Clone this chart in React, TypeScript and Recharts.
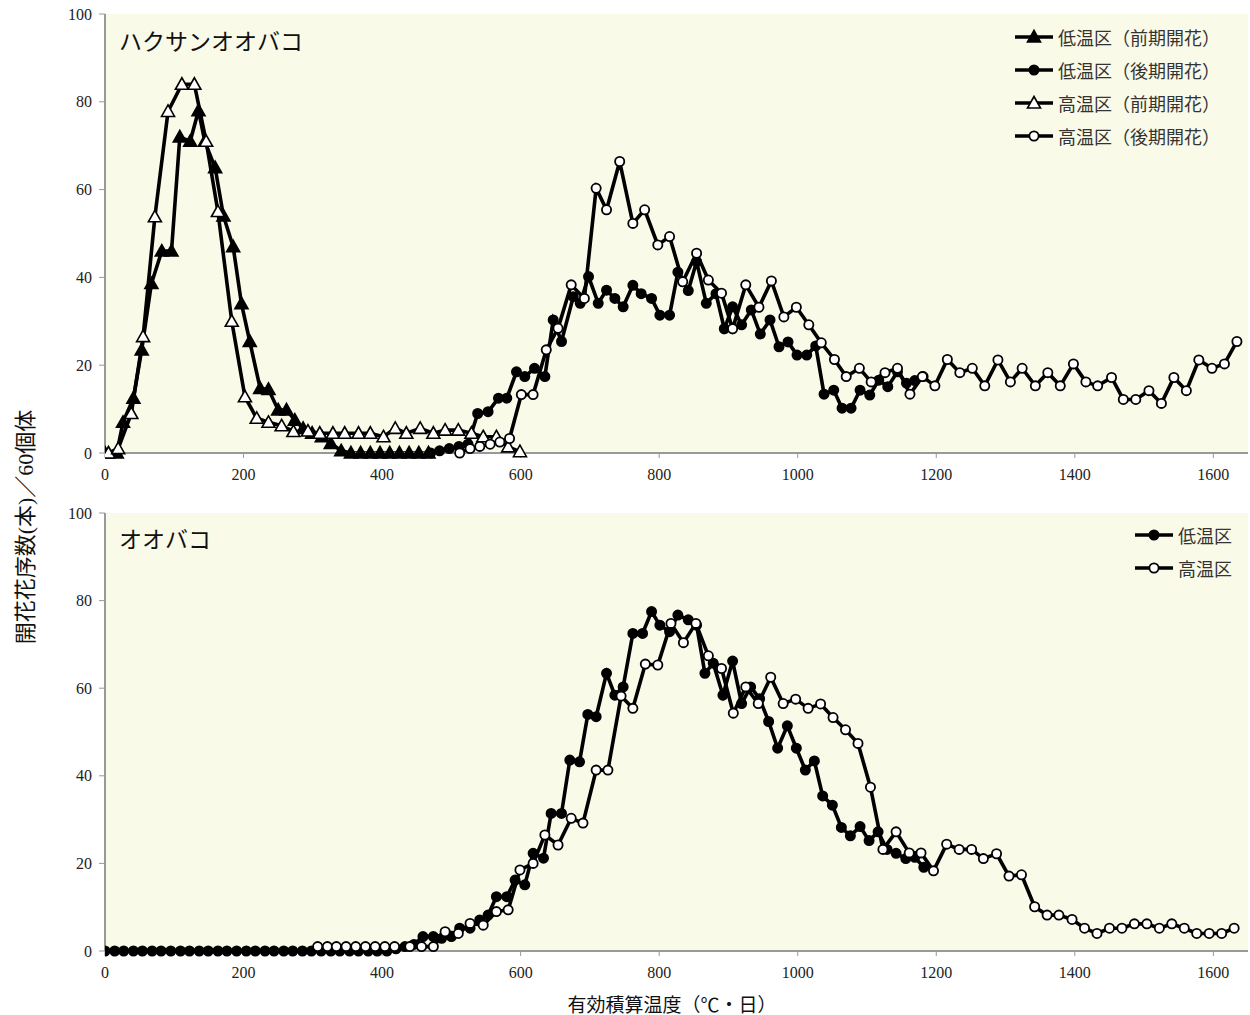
import React from "react";
import { LineChart, Line, XAxis, YAxis, ReferenceArea } from "recharts";

// ハクサンオオバコ — [有効積算温度, 開花花序数]
const hakuLowEarly: [number, number][] = [
  [0, 0], [17, 0], [26, 7], [41, 12.5], [53, 23.5], [67, 38.6], [82, 46], [96, 46],
  [108, 72], [123, 71], [135, 78], [144, 71], [159, 65], [171, 54], [185, 47], [197, 34],
  [209, 25.4], [224, 14.7], [236, 14.5], [250, 9.8], [262, 9.8], [274, 7.5], [286, 5.6],
  [299, 4.5], [313, 3.7], [326, 2.2], [341, 0.5], [355, 0], [369, 0], [383, 0], [397, 0],
  [411, 0], [425, 0], [439, 0], [453, 0], [467, 0],
];
const hakuLowLate: [number, number][] = [
  [470, 0], [483, 0.5], [497, 1], [511, 1.5], [524, 2], [538, 9], [553, 9.4], [568, 12.5],
  [580, 12.5], [594, 18.5], [606, 17.4], [620, 19.3], [635, 17.4], [647, 30.3], [659, 25.4],
  [676, 35.6], [686, 34.1], [698, 40.2], [712, 34.1], [724, 37.1], [736, 35.2], [748, 33.3],
  [762, 38.2], [774, 36.3], [789, 35.2], [801, 31.4], [815, 31.4], [827, 41.2], [842, 37],
  [854, 43.6], [868, 34.1], [882, 36.3], [894, 28.3], [906, 33.3], [919, 29.2], [933, 32.6],
  [946, 27.1], [960, 30.3], [973, 24.2], [986, 25.3], [999, 22.3], [1013, 22.3], [1026, 24.4],
  [1038, 13.4], [1052, 14.3], [1064, 10.2], [1077, 10.2], [1090, 14.3], [1104, 13.2],
  [1117, 16.6], [1130, 15.1], [1144, 18.5], [1157, 15.9], [1169, 16.5], [1181, 17.4],
];
const hakuHighEarly: [number, number][] = [
  [5, 0], [19, 1], [38, 9], [55, 26.5], [72, 53.8], [91, 77.8], [111, 84], [129, 84],
  [146, 71], [163, 55], [183, 30], [202, 12.8], [219, 7.9], [236, 7], [255, 6.2], [272, 4.9],
  [293, 5], [310, 4.5], [329, 4.5], [346, 4.5], [366, 4.5], [383, 4.5], [402, 3.7], [419, 5.6],
  [435, 4.5], [455, 5.6], [474, 4.5], [491, 5.2], [510, 5.2], [529, 4.5], [546, 3.7],
  [565, 3.7], [582, 1.4], [599, 0.3],
];
const hakuHighLate: [number, number][] = [
  [512, 0], [527, 1], [541, 1.5], [556, 2], [570, 2.5], [584, 3.3], [601, 13.3], [618, 13.3],
  [637, 23.5], [654, 28.4], [673, 38.3], [692, 35.2], [709, 60.3], [724, 55.4], [743, 66.4],
  [762, 52.3], [779, 55.4], [798, 47.4], [815, 49.3], [834, 39], [854, 45.5], [871, 39.4],
  [890, 36.4], [906, 28.3], [925, 38.3], [944, 33.2], [962, 39.2], [980, 31], [998, 33.2],
  [1016, 29.2], [1034, 25.1], [1053, 21.3], [1070, 17.4], [1089, 19.3], [1106, 16.2],
  [1126, 18.3], [1144, 19.3], [1162, 13.4], [1180, 17.4], [1198, 15.3], [1216, 21.3],
  [1234, 18.3], [1252, 19.3], [1270, 15.3], [1289, 21.2], [1307, 16.2], [1324, 19.3],
  [1343, 15.3], [1361, 18.3], [1379, 15.3], [1398, 20.3], [1416, 16.2], [1433, 15.3],
  [1453, 17.2], [1470, 12.2], [1488, 12.2], [1507, 14.2], [1525, 11.3], [1543, 17.2],
  [1561, 14.2], [1579, 21.2], [1598, 19.3], [1616, 20.3], [1634, 25.4],
];

// オオバコ
const ooLow: [number, number][] = [
  [0, 0], [14, 0], [27, 0], [41, 0], [54, 0], [68, 0], [81, 0], [95, 0], [109, 0], [122, 0],
  [136, 0], [149, 0], [163, 0], [176, 0], [190, 0], [204, 0], [217, 0], [231, 0], [244, 0],
  [258, 0], [271, 0], [285, 0], [298, 0], [312, 0], [326, 0], [339, 0], [353, 0], [366, 0],
  [380, 0], [393, 0], [407, 0], [420, 0.5], [433, 1], [446, 1.5], [459, 3.3], [474, 3.3],
  [486, 2.9], [500, 3.3], [512, 5.2], [527, 5.2], [541, 7.1], [553, 8.2], [565, 12.4],
  [580, 12.4], [592, 16.2], [606, 15.1], [618, 22.3], [633, 21.2], [644, 31.4], [659, 31.4],
  [671, 43.6], [685, 43.2], [697, 54], [709, 53.5], [724, 63.4], [736, 58.4], [748, 60.3],
  [762, 72.5], [776, 72.5], [789, 77.5], [801, 74.4], [815, 72.9], [827, 76.7], [842, 75.6],
  [854, 74.4], [866, 63.4], [878, 65.7], [892, 58.4], [906, 66.2], [919, 56.5], [932, 60.3],
  [945, 57.6], [958, 52.4], [971, 46.3], [985, 51.4], [998, 46.3], [1011, 41.3], [1024, 43.4],
  [1036, 35.4], [1050, 33.3], [1063, 28.2], [1076, 26.3], [1090, 28.4], [1103, 25.2],
  [1116, 27.2], [1129, 23.2], [1142, 22.3], [1156, 21.1], [1169, 21.4], [1182, 19.1],
];
const ooHigh: [number, number][] = [
  [307, 1], [321, 1], [334, 1], [348, 1], [362, 1], [376, 1], [390, 1], [404, 1], [418, 1],
  [440, 1], [457, 1], [474, 1], [491, 4.4], [510, 4], [527, 6.3], [546, 5.9], [565, 9],
  [582, 9.4], [599, 18.5], [618, 20], [635, 26.5], [654, 24.2], [673, 30.3], [690, 29.2],
  [709, 41.3], [726, 41.3], [745, 58.2], [762, 55.4], [780, 65.5], [798, 65.3], [817, 74.8],
  [835, 70.4], [853, 74.8], [871, 67.4], [890, 64.5], [907, 54.3], [925, 60.3], [943, 56.5],
  [961, 62.5], [979, 56.5], [997, 57.5], [1015, 55.4], [1033, 56.4], [1051, 53.3],
  [1069, 50.5], [1087, 47.4], [1105, 37.4], [1123, 23.2], [1142, 27.2], [1161, 22.4],
  [1178, 22.4], [1196, 18.3], [1215, 24.4], [1233, 23.2], [1251, 23.2], [1268, 21.1],
  [1287, 22.2], [1305, 17.1], [1323, 17.4], [1342, 10.1], [1360, 8.2], [1377, 8.2],
  [1396, 7.2], [1414, 5.2], [1432, 4], [1450, 5.2], [1468, 5.2], [1486, 6.2], [1504, 6.2],
  [1522, 5.2], [1540, 6.2], [1558, 5.2], [1576, 4], [1594, 4], [1612, 4], [1630, 5.2],
];

const xTicks = [0, 200, 400, 600, 800, 1000, 1200, 1400, 1600];
const yTicks = [0, 20, 40, 60, 80, 100];

const SERIF = '"Liberation Serif", "Times New Roman", "Noto Sans CJK JP", serif';
const BG = "#FAFAE8";
const AXIS = "#999";

const toRows = (pts: [number, number][]) => pts.map(([x, y]) => ({ x, y }));

type Shape = "tri" | "circle";

function Marker({ cx, cy, shape, filled }: { cx: number; cy: number; shape: Shape; filled: boolean }) {
  const fill = filled ? "#000" : "#fff";
  if (shape === "tri") {
    return (
      <path
        d={`M${cx},${cy - 6.5} L${cx + 6.5},${cy + 5} L${cx - 6.5},${cy + 5} Z`}
        fill={fill}
        stroke="#000"
        strokeWidth={1.6}
      />
    );
  }
  return <circle cx={cx} cy={cy} r={4.6} fill={fill} stroke="#000" strokeWidth={1.8} />;
}

const dotFn = (shape: Shape, filled: boolean) => (p: any) => (
  <g key={p.index}>
    <Marker cx={p.cx} cy={p.cy} shape={shape} filled={filled} />
  </g>
);

function series(name: string, pts: [number, number][], shape: Shape, filled: boolean) {
  return (
    <Line
      key={name}
      name={name}
      data={toRows(pts)}
      dataKey="y"
      type="linear"
      stroke="#000"
      strokeWidth={3.6}
      dot={dotFn(shape, filled)}
      activeDot={false}
      isAnimationActive={false}
    />
  );
}

function LegendBox({
  items,
  left,
  top,
}: {
  items: { label: string; shape: Shape; filled: boolean }[];
  left: number;
  top: number;
}) {
  return (
    <div style={{ position: "absolute", left, top }}>
      {items.map((it) => (
        <div key={it.label} style={{ display: "flex", alignItems: "center", height: 33 }}>
          <svg width={40} height={20}>
            <line x1={1} y1={10} x2={39} y2={10} stroke="#000" strokeWidth={3.6} />
            <Marker cx={20} cy={10} shape={it.shape} filled={it.filled} />
          </svg>
          <span style={{ fontFamily: SERIF, fontSize: 18, color: "#333", marginLeft: 4, whiteSpace: "nowrap" }}>
            {it.label}
          </span>
        </div>
      ))}
    </div>
  );
}

function Panel({
  height,
  top,
  xHeight,
  children,
}: {
  height: number;
  top: number;
  xHeight: number;
  children: React.ReactNode;
}) {
  return (
    <LineChart width={1250} height={height} margin={{ top, right: 2, left: 0, bottom: 0 }}>
      <ReferenceArea x1={0} x2={1650} y1={0} y2={100} fill={BG} fillOpacity={1} stroke="none" ifOverflow="hidden" />
      <XAxis
        type="number"
        dataKey="x"
        domain={[0, 1650]}
        ticks={xTicks}
        allowDataOverflow
        height={xHeight}
        tickSize={5}
        tickMargin={11}
        axisLine={{ stroke: AXIS, strokeWidth: 2 }}
        tickLine={{ stroke: AXIS }}
        tick={{ fontFamily: SERIF, fontSize: 16, fill: "#222" }}
      />
      <YAxis
        type="number"
        domain={[0, 100]}
        ticks={yTicks}
        width={105}
        tickSize={6}
        tickMargin={7}
        axisLine={{ stroke: AXIS, strokeWidth: 2 }}
        tickLine={{ stroke: AXIS }}
        tick={{ fontFamily: SERIF, fontSize: 16, fill: "#222" }}
      />
      {children}
    </LineChart>
  );
}

export default function App() {
  return (
    <div style={{ position: "absolute", left: 0, top: 0, width: 1250, height: 1015, background: "#fff" }}>
      <div style={{ position: "absolute", left: 0, top: 0 }}>
        <Panel height={490} top={14} xHeight={37}>
          {series("低温区（前期開花）", hakuLowEarly, "tri", true)}
          {series("低温区（後期開花）", hakuLowLate, "circle", true)}
          {series("高温区（前期開花）", hakuHighEarly, "tri", false)}
          {series("高温区（後期開花）", hakuHighLate, "circle", false)}
        </Panel>
      </div>
      <div style={{ position: "absolute", left: 0, top: 490 }}>
        <Panel height={525} top={23} xHeight={64}>
          {series("低温区", ooLow, "circle", true)}
          {series("高温区", ooHigh, "circle", false)}
        </Panel>
      </div>

      <div style={{ position: "absolute", left: 119, top: 23, fontFamily: SERIF, fontSize: 23, color: "#111" }}>
        ハクサンオオバコ
      </div>
      <div style={{ position: "absolute", left: 119, top: 521, fontFamily: SERIF, fontSize: 23, color: "#111" }}>
        オオバコ
      </div>

      <LegendBox
        left={1014}
        top={20}
        items={[
          { label: "低温区（前期開花）", shape: "tri", filled: true },
          { label: "低温区（後期開花）", shape: "circle", filled: true },
          { label: "高温区（前期開花）", shape: "tri", filled: false },
          { label: "高温区（後期開花）", shape: "circle", filled: false },
        ]}
      />
      <LegendBox
        left={1134}
        top={518}
        items={[
          { label: "低温区", shape: "circle", filled: true },
          { label: "高温区", shape: "circle", filled: false },
        ]}
      />

      <div
        style={{
          position: "absolute",
          left: 23,
          top: 527,
          transform: "translate(-50%, -50%) rotate(-90deg)",
          fontFamily: SERIF,
          fontSize: 22,
          color: "#111",
          whiteSpace: "nowrap",
        }}
      >
        開花花序数(本)／60個体
      </div>
      <div
        style={{
          position: "absolute",
          left: 672,
          top: 1003,
          transform: "translate(-50%, -50%)",
          fontFamily: SERIF,
          fontSize: 19,
          color: "#111",
          whiteSpace: "nowrap",
        }}
      >
        有効積算温度（℃・日）
      </div>
    </div>
  );
}
